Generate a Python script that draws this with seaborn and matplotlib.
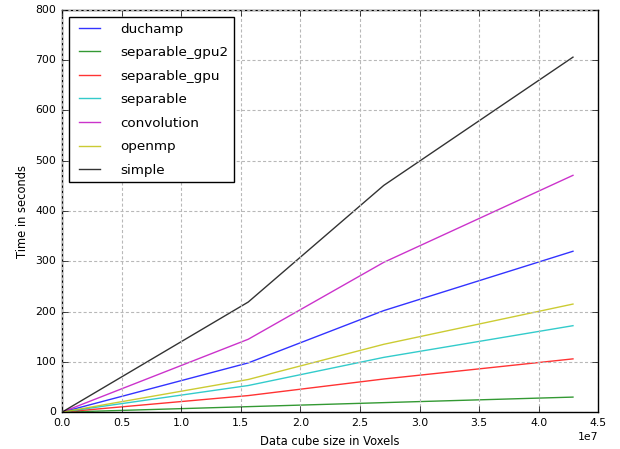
import seaborn as sns
import matplotlib.pyplot as plt
import pandas as pd

# cube sizes (voxels) and run times in seconds
sizes = [125000, 15625000, 27000000, 42875000]
duchamp = [0.8, 98, 202, 320]
separable_gpu2 = [0.1, 11, 19, 30]
separable_gpu = [0.3, 33, 66, 106]
separable = [0.5, 53, 109, 172]
convolution = [1.2, 145, 298, 471]
openmp = [0.6, 65, 135, 215]
simple = [1.8, 219, 451, 706]

names = ["duchamp", "separable_gpu2", "separable_gpu", "separable",
         "convolution", "openmp", "simple"]
series = [duchamp, separable_gpu2, separable_gpu, separable,
          convolution, openmp, simple]
colors = ["b", "g", "r", "c", "m", "y", "k"]

rows = []
for n, vals in zip(names, series):
    for s, v in zip(sizes, vals):
        rows.append({"size": s, "time": v, "method": n})
df = pd.DataFrame(rows)

plt.style.use('classic')
plt.rcParams['font.family'] = ['DejaVu Sans']
plt.rcParams['xtick.labelsize'] = 7.8
plt.rcParams['ytick.labelsize'] = 7.8

fig = plt.figure(figsize=(6.2, 4.49), dpi=100, facecolor='white')
ax = fig.add_axes([0.1, 0.082, 0.865, 0.896])

sns.lineplot(data=df, x="size", y="time", hue="method", hue_order=names,
             palette=dict(zip(names, colors)), linewidth=1, alpha=0.8, ax=ax)

ax.set_xlim(0, 4.5e7)
ax.set_ylim(0, 800)
ax.grid(True, color='#b8b8b8', linestyle=(0, (2.2, 1.6)), linewidth=0.8)
ax.set_xlabel("Data cube size in Voxels", fontsize=8.3)
ax.set_ylabel("Time in seconds", fontsize=8.3)
ax.xaxis.get_offset_text().set_fontsize(7.8)

leg = ax.legend(loc='upper left', fontsize=9.7, handlelength=2.2,
                borderaxespad=0.55, labelspacing=0.78, handletextpad=1.2)
leg.get_frame().set_linewidth(1)

fig.savefig("out.png", dpi=100, facecolor='white')
